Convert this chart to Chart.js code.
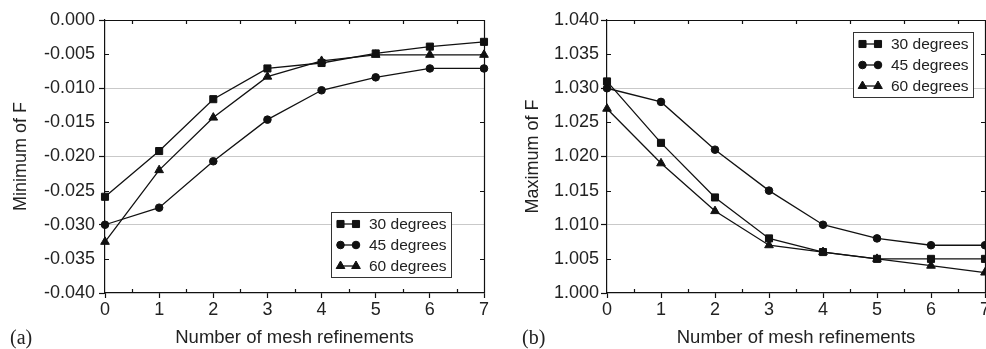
<!DOCTYPE html>
<html>
<head>
<meta charset="utf-8">
<script src="https://cdn.jsdelivr.net/npm/chart.js@4.4.1/dist/chart.umd.min.js"></script>
<style>
  html, body { margin: 0; padding: 0; background: #fff; }
  body { width: 986px; height: 349px; overflow: hidden; position: relative; }
  canvas { position: absolute; top: 0; }
  #cA { left: 0; }
  #cB { left: 512px; }
  .lab { position: absolute; font-family: "Liberation Serif", "Times New Roman", serif; font-size: 20px; color: #222; line-height: 20px; }
</style>
</head>
<body>
<canvas id="cA" width="495" height="349"></canvas>
<canvas id="cB" width="488" height="349"></canvas>
<div class="lab" style="left:10px; top:327px;">(a)</div>
<div class="lab" style="left:522px; top:327px;">(b)</div>
<script>
// ---- data ----
const refinements = [0, 1, 2, 3, 4, 5, 6, 7];
const seriesLabels = ['30 degrees', '45 degrees', '60 degrees'];
const minF30 = [-0.0259, -0.0192, -0.0116, -0.0071, -0.0063, -0.0049, -0.0039, -0.0032];
const minF45 = [-0.0300, -0.0275, -0.0207, -0.0146, -0.0103, -0.0084, -0.0071, -0.0071];
const minF60 = [-0.0325, -0.0220, -0.0143, -0.0083, -0.0060, -0.0051, -0.0051, -0.0051];
const maxF30 = [1.031, 1.022, 1.014, 1.008, 1.006, 1.005, 1.005, 1.005];
const maxF45 = [1.030, 1.028, 1.021, 1.015, 1.010, 1.008, 1.007, 1.007];
const maxF60 = [1.027, 1.019, 1.012, 1.007, 1.006, 1.005, 1.004, 1.003];
const yTitleA = 'Minimum of F';
const yTitleB = 'Maximum of F';
const xTitle = 'Number of mesh refinements';

// ---- styling ----
const INK = '#111';
const TXT = '#222';
const FONT = '"Liberation Sans", Arial, Helvetica, sans-serif';
const markerStyles = [
  { pointStyle: 'rect', radius: 5 },
  { pointStyle: 'circle', radius: 3.8 },
  { pointStyle: 'triangle', radius: 5 }
];

function toPoints(arr) { return refinements.map((x, i) => ({ x: x, y: arr[i] })); }

function makeDatasets(arrs) {
  return arrs.map((arr, i) => ({
    label: seriesLabels[i],
    data: toPoints(arr),
    borderColor: INK,
    borderWidth: 1.3,
    backgroundColor: INK,
    pointBackgroundColor: INK,
    pointBorderColor: INK,
    pointBorderWidth: 1,
    pointStyle: markerStyles[i].pointStyle,
    pointRadius: markerStyles[i].radius,
    tension: 0,
    clip: false
  }));
}

const frameLegendPlugin = {
  id: 'frameLegend',
  afterDraw(chart, args, opts) {
    const ctx = chart.ctx;
    const ca = chart.chartArea;
    const xs = chart.scales.x, ys = chart.scales.y;
    const step = opts.yStep;
    ctx.save();
    ctx.strokeStyle = INK;
    ctx.lineWidth = 1.2;
    ctx.beginPath();
    // top and right frame lines
    ctx.moveTo(ca.left, ca.top + 0.5); ctx.lineTo(ca.right, ca.top + 0.5);
    ctx.moveTo(ca.right + 0.5, ca.top); ctx.lineTo(ca.right + 0.5, ca.bottom);
    // minor x ticks at half positions (inside, bottom and top)
    for (let v = xs.min + 0.5; v < xs.max; v += 1) {
      const px = Math.round(xs.getPixelForValue(v)) + 0.5;
      ctx.moveTo(px, ca.bottom); ctx.lineTo(px, ca.bottom - 4);
      ctx.moveTo(px, ca.top); ctx.lineTo(px, ca.top + 4);
    }
    // minor y ticks at odd steps (inside, left and right)
    for (let v = ys.min + step; v < ys.max - 1e-9; v += 2 * step) {
      const py = Math.round(ys.getPixelForValue(v)) + 0.5;
      ctx.moveTo(ca.left, py); ctx.lineTo(ca.left + 4, py);
      ctx.moveTo(ca.right, py); ctx.lineTo(ca.right - 4, py);
    }
    ctx.stroke();

    // legend box
    const L = opts.legend;
    ctx.fillStyle = '#fff';
    ctx.fillRect(L.left, L.top, L.width, L.height);
    ctx.strokeStyle = '#333';
    ctx.lineWidth = 1;
    ctx.strokeRect(L.left + 0.5, L.top + 0.5, L.width, L.height);
    ctx.font = '15.5px ' + FONT;
    ctx.textBaseline = 'middle';
    ctx.textAlign = 'left';
    chart.data.datasets.forEach((ds, i) => {
      const cy = L.top + 12 + i * 21;
      const x1 = L.left + 9.5, x2 = L.left + 25;
      ctx.strokeStyle = INK; ctx.lineWidth = 1.3;
      ctx.beginPath(); ctx.moveTo(x1, cy); ctx.lineTo(x2, cy); ctx.stroke();
      ctx.fillStyle = INK; ctx.strokeStyle = INK; ctx.lineWidth = 1;
      const po = { pointStyle: ds.pointStyle, radius: ds.pointRadius, rotation: 0, borderWidth: 1 };
      Chart.helpers.drawPoint(ctx, po, x1, cy);
      Chart.helpers.drawPoint(ctx, po, x2, cy);
      ctx.fillStyle = TXT;
      ctx.fillText(ds.label, L.left + 38, cy + 1);
    });
    ctx.restore();
  }
};

function isMajor(v, step) {
  const k = Math.round(v / (2 * step));
  return Math.abs(k * 2 * step - v) < 1e-7;
}

function makeChart(id, arrs, cfg) {
  const step = cfg.yStep;
  return new Chart(document.getElementById(id), {
    type: 'line',
    data: { datasets: makeDatasets(arrs) },
    plugins: [frameLegendPlugin],
    options: {
      responsive: false,
      devicePixelRatio: 1,
      animation: false,
      layout: { padding: { left: 0, right: cfg.padRight, top: 20, bottom: 0 } },
      plugins: {
        legend: { display: false },
        tooltip: { enabled: false },
        frameLegend: { yStep: step, legend: cfg.legend }
      },
      scales: {
        x: {
          type: 'linear', min: 0, max: 7,
          ticks: { stepSize: 1, font: { family: FONT, size: 18 }, color: TXT, padding: 1 },
          grid: { drawOnChartArea: false, tickLength: 5, tickColor: INK, tickWidth: 1.2 },
          border: { color: INK, width: 1.2 },
          title: { display: true, text: xTitle, font: { family: FONT, size: 18.5 }, color: TXT, padding: { top: 0, bottom: 0 } },
          afterFit(s) { s.height = 56; }
        },
        y: {
          min: cfg.yMin, max: cfg.yMax,
          ticks: {
            stepSize: step, font: { family: FONT, size: 18 }, color: TXT, padding: cfg.tickPad,
            callback: (v) => (Math.abs(v) < 1e-9 ? '0.000' : Number(v).toFixed(3))
          },
          grid: {
            lineWidth: 1,
            color: (c) => {
              const v = c.tick ? c.tick.value : NaN;
              if (!isFinite(v)) return 'rgba(0,0,0,0)';
              const inner = v > cfg.yMin + 1e-9 && v < cfg.yMax - 1e-9;
              return (inner && isMajor(v - cfg.yMin, step)) ? '#c9c9c9' : 'rgba(0,0,0,0)';
            },
            tickLength: 6,
            tickWidth: 1.2,
            tickColor: (c) => {
              const v = c.tick ? c.tick.value : NaN;
              return (isFinite(v) && isMajor(v - cfg.yMin, step)) ? INK : 'rgba(0,0,0,0)';
            }
          },
          border: { color: INK, width: 1.2 },
          title: { display: true, text: cfg.yTitle, font: { family: FONT, size: 18 }, color: TXT, padding: { top: 10, bottom: 0 } },
          afterFit(s) { s.width = cfg.yWidth; }
        }
      }
    }
  });
}

makeChart('cA', [minF30, minF45, minF60], {
  yMin: -0.040, yMax: 0.000, yStep: 0.005, yTitle: yTitleA, yWidth: 105, padRight: 11, tickPad: 4,
  legend: { left: 331, top: 212, width: 120, height: 65 }
});
makeChart('cB', [maxF30, maxF45, maxF60], {
  yMin: 1.000, yMax: 1.040, yStep: 0.005, yTitle: yTitleB, yWidth: 95, padRight: 15, tickPad: 2,
  legend: { left: 341, top: 32, width: 120, height: 65 }
});
</script>
</body>
</html>
